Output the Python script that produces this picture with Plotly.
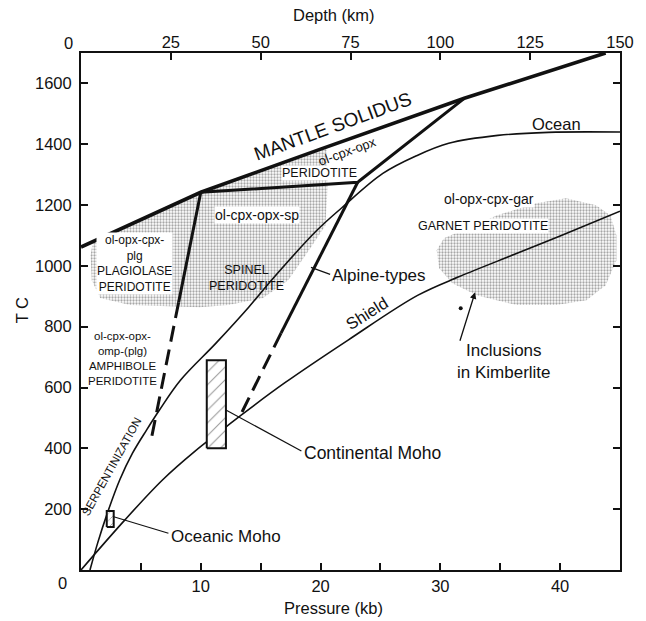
import plotly.graph_objects as go

# ---------------- data ----------------
pressure_ticks = [5, 10, 15, 20, 25, 30, 35, 40]
pressure_ticktext = ["", "10", "", "20", "", "30", "", "40"]
depth_ticks = [25, 50, 75, 100, 125, 150]
depth_ticktext = ["25", "50", "75", "100", "125", "150"]
temp_ticks = [200, 400, 600, 800, 1000, 1200, 1400, 1600]

solidus_p = [0, 10.0, 20.0, 32.0, 43.8]
solidus_t = [1062, 1242, 1384, 1551, 1700]

spinel_bound_p = [10.0, 23.1, 32.0]
spinel_bound_t = [1242, 1275, 1551]

alpine_solid_p = [23.1, 16.7]
alpine_solid_t = [1275, 779]
alpine_dash_p = [16.7, 13.4]
alpine_dash_t = [779, 516]

plag_solid_p = [10.0, 8.15]
plag_solid_t = [1242, 880]
plag_dash_p = [8.15, 5.9]
plag_dash_t = [880, 437]

ocean_p = [0.75, 1.4, 2.2, 3.23, 4.3, 5.47, 6.55, 8.3, 11.27, 14.0, 15.9, 19.7, 21.8, 25.2, 28.0, 30.7, 34.8, 39.0, 45.0]
ocean_t = [0, 90, 187, 296, 384, 460, 526, 624, 746, 864, 953, 1117, 1192, 1304, 1362, 1403, 1429, 1439, 1440]

shield_p = [0, 3.65, 6.8, 9.5, 12.1, 13.4, 17.0, 22.3, 28.1, 31.6, 36.2, 40.0, 45.0]
shield_t = [0, 164, 296, 390, 470, 510, 615, 756, 903, 965, 1038, 1098, 1180]

upper_field_p = [1.0, 10.0, 15.2, 20.5, 20.6, 20.4, 19.2, 17.3, 15.2, 12.3, 9.9, 4.1, 1.6, 0.9, 0.8, 1.0]
upper_field_t = [1081, 1242, 1314, 1386, 1265, 1133, 1061, 953, 894, 871, 864, 871, 894, 953, 1035, 1081]

garnet_field_p = [29.7, 30.3, 32.2, 34.7, 38.0, 40.5, 43.0, 44.2, 44.7, 44.7, 43.8, 42.2, 39.7, 36.4, 33.1, 31.0, 29.9, 29.7]
garnet_field_t = [1051, 1091, 1124, 1166, 1206, 1222, 1199, 1166, 1101, 1018, 936, 887, 871, 871, 903, 943, 992, 1051]

cont_moho_p = [10.5, 12.1]
cont_moho_t = [400, 690]
ocean_moho_p = [2.15, 2.73]
ocean_moho_t = [141, 194]

kimberlite_p = [31.7]
kimberlite_t = [861]

FONT = "Liberation Sans, Arial, sans-serif"
BLACK = "#111111"

fig = go.Figure()

stipple = dict(shape=".", fgcolor="#505050", bgcolor="white", size=3, solidity=0.45)

fig.add_trace(go.Scatter(x=upper_field_p, y=upper_field_t, fill="toself", mode="none",
                         fillpattern=stipple, hoverinfo="skip", showlegend=False))
fig.add_trace(go.Scatter(x=garnet_field_p, y=garnet_field_t, fill="toself", mode="none",
                         fillpattern=stipple, hoverinfo="skip", showlegend=False))

def line(px, pt, width, dash="solid", shape="linear"):
    fig.add_trace(go.Scatter(x=px, y=pt, mode="lines",
                             line=dict(color=BLACK, width=width, dash=dash, shape=shape),
                             hoverinfo="skip", showlegend=False))

line(ocean_p, ocean_t, 1.6, shape="spline")
line(shield_p, shield_t, 1.6, shape="spline")
line(solidus_p, solidus_t, 3.6)
line(spinel_bound_p, spinel_bound_t, 3.0)
line(alpine_solid_p, alpine_solid_t, 3.0)
line(alpine_dash_p, alpine_dash_t, 3.0, dash="16px,8px")
line(plag_solid_p, plag_solid_t, 3.0)
line(plag_dash_p, plag_dash_t, 3.0, dash="16px,8px")

# Moho boxes
def box(pp, tt, pattern):
    fig.add_trace(go.Scatter(x=[pp[0], pp[1], pp[1], pp[0], pp[0]],
                             y=[tt[0], tt[0], tt[1], tt[1], tt[0]],
                             mode="lines", fill="toself",
                             line=dict(color=BLACK, width=2),
                             fillpattern=pattern, hoverinfo="skip", showlegend=False))

hatch = dict(shape="/", fgcolor="#333333", bgcolor="white", size=9, solidity=0.12)
box(cont_moho_p, cont_moho_t, hatch)
box(ocean_moho_p, ocean_moho_t, dict(shape="/", fgcolor="#333333", bgcolor="white", size=5, solidity=0.15))

# leader lines
line([2.73, 7.3], [175, 121], 1.2)
line([12.1, 18.4], [526, 391], 1.2)
line([19.2, 20.8], [995, 972], 1.2)

fig.add_trace(go.Scatter(x=kimberlite_p, y=kimberlite_t, mode="markers",
                         marker=dict(color=BLACK, size=4), hoverinfo="skip", showlegend=False))

# invisible trace for top axis
fig.add_trace(go.Scatter(x=[0, 150], y=[0, 0], xaxis="x2", mode="markers",
                         marker=dict(opacity=0), hoverinfo="skip", showlegend=False))

def label(x, y, text, size, angle=0, bg=None, xanchor="center"):
    fig.add_annotation(x=x, y=y, text=text, showarrow=False, textangle=angle,
                       font=dict(family=FONT, size=size, color=BLACK),
                       bgcolor=bg, borderpad=0, xanchor=xanchor, yanchor="middle")

label(21.0, 1457, "MANTLE SOLIDUS", 19, angle=-20)
label(22.2, 1376, "ol-cpx-opx", 13, angle=-20)
label(19.9, 1307, "PERIDOTITE", 12.5, bg="white")
label(14.7, 1166, "ol-cpx-opx-sp", 14, bg="white")
label(4.45, 1008, "ol-opx-cpx-<br>plg<br>PLAGIOLASE<br>PERIDOTITE", 12, bg="white")
label(13.8, 959, "SPINEL<br>PERIDOTITE", 12.5)
label(3.5, 696, "ol-cpx-opx-<br>omp-(plg)<br>AMPHIBOLE<br>PERIDOTITE", 11.5)
label(2.55, 338, "SERPENTINIZATION", 11.5, angle=-61)
label(34.05, 1219, "ol-opx-cpx-gar", 14, bg="white")
label(33.6, 1130, "GARNET PERIDOTITE", 12.5, bg="white")
label(39.7, 1465, "Ocean", 16.5)
label(23.9, 844, "Shield", 16.5, angle=-32)
label(20.9, 968, "Alpine-types", 17, xanchor="left")
label(18.5, 384, "Continental Moho", 17.5, xanchor="left")
label(7.4, 110, "Oceanic Moho", 17, xanchor="left")
label(31.3, 687, "Inclusions<br>in Kimberlite", 17, xanchor="left")

fig.add_annotation(x=32.9, y=913, ax=31.6, ay=749, axref="x", ayref="y", text="",
                   showarrow=True, arrowhead=2, arrowsize=1, arrowwidth=1.3, arrowcolor=BLACK)

# axis titles and corner zeros (paper coords)
def ptext(x, y, text, size, angle=0):
    fig.add_annotation(x=x, y=y, xref="paper", yref="paper", text=text, showarrow=False,
                       textangle=angle, xanchor="center", yanchor="middle",
                       font=dict(family=FONT, size=size, color=BLACK))

ptext(0.469, 1.0735, "Depth (km)", 16.5)
ptext(0.469, -0.074, "Pressure (kb)", 16.5)
ptext(-0.1087, 0.503, "T C", 16.5, angle=-90)
ptext(-0.035, -0.025, "0", 16.5)
ptext(-0.024, 1.019, "0", 16.5)

axis_common = dict(showgrid=False, zeroline=False, showline=True, linecolor=BLACK, linewidth=2,
                   ticks="inside", ticklen=7, tickwidth=1.6, tickcolor=BLACK,
                   tickfont=dict(family=FONT, size=16.5, color=BLACK))

fig.update_layout(
    width=646, height=621,
    margin=dict(l=81, r=22, t=53, b=51),
    paper_bgcolor="white", plot_bgcolor="white",
    font=dict(family=FONT, color=BLACK),
    showlegend=False,
    xaxis=dict(range=[0, 45], tickvals=pressure_ticks, ticktext=pressure_ticktext, **axis_common),
    xaxis2=dict(range=[0, 150], overlaying="x", side="top", tickvals=depth_ticks,
                ticktext=depth_ticktext, anchor="y", ticklabelstandoff=-4, **axis_common),
    yaxis=dict(range=[0, 1700], tickvals=temp_ticks, mirror="ticks", ticklabelstandoff=4,
               **axis_common),
)

fig.write_html("out.html")
